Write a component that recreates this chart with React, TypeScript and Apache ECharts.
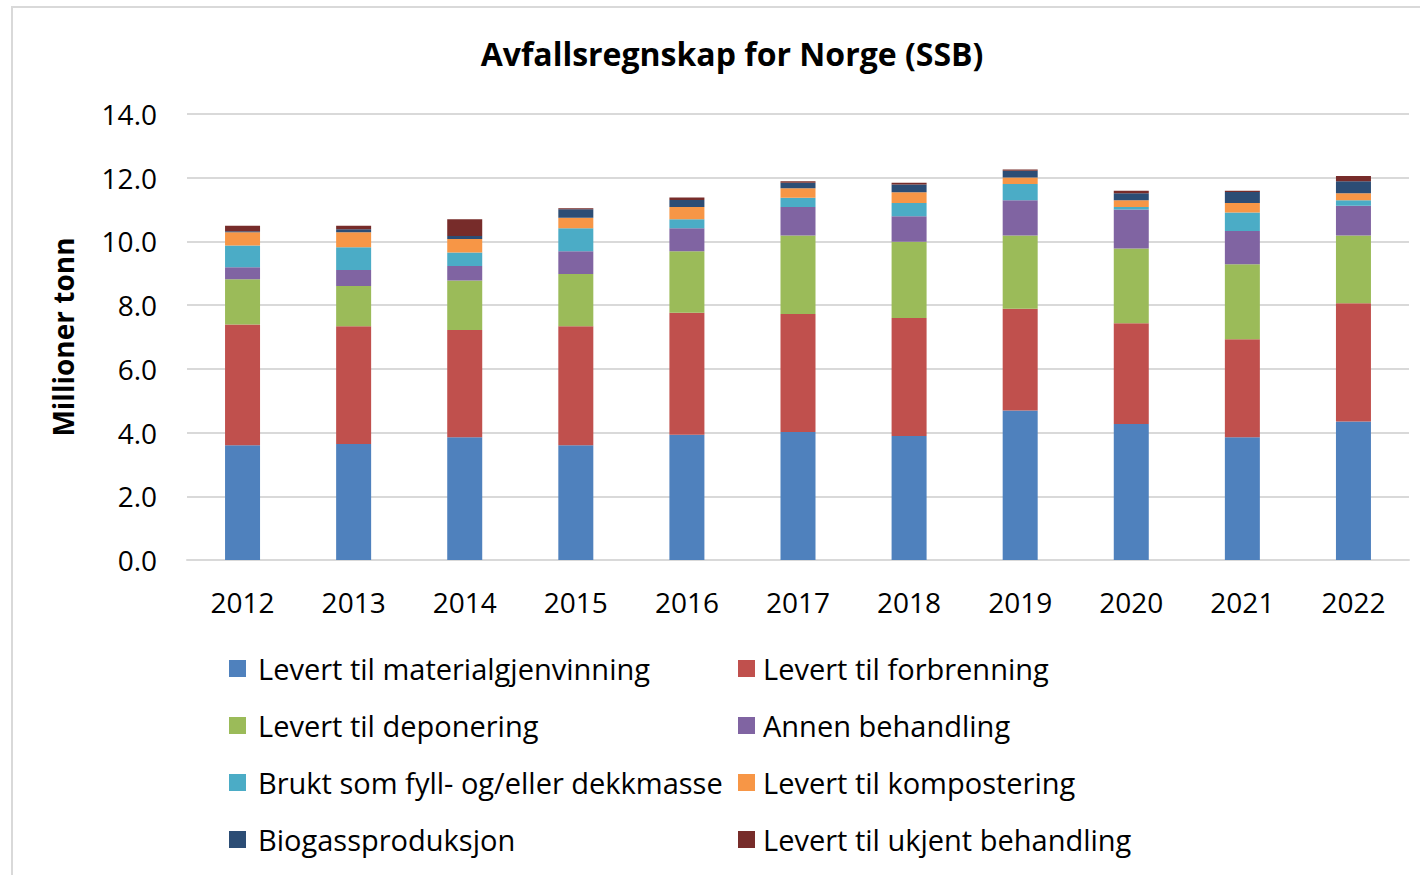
import React, { useEffect, useRef } from "react";
import * as echarts from "echarts";

const years = ["2012", "2013", "2014", "2015", "2016", "2017", "2018", "2019", "2020", "2021", "2022"];

const seriesNames = [
  "Levert til materialgjenvinning",
  "Levert til forbrenning",
  "Levert til deponering",
  "Annen behandling",
  "Brukt som fyll- og/eller dekkmasse",
  "Levert til kompostering",
  "Biogassproduksjon",
  "Levert til ukjent behandling",
];

const materialgjenvinning = [3.60, 3.64, 3.85, 3.60, 3.93, 4.02, 3.89, 4.69, 4.27, 3.85, 4.35];
const forbrenning = [3.79, 3.70, 3.37, 3.74, 3.83, 3.70, 3.71, 3.20, 3.16, 3.08, 3.71];
const deponering = [1.42, 1.26, 1.55, 1.64, 1.93, 2.47, 2.39, 2.30, 2.35, 2.35, 2.13];
const annenBehandling = [0.38, 0.50, 0.46, 0.71, 0.72, 0.89, 0.80, 1.10, 1.22, 1.05, 0.93];
const fyllDekkmasse = [0.68, 0.72, 0.42, 0.72, 0.29, 0.29, 0.42, 0.51, 0.08, 0.58, 0.17];
const kompostering = [0.42, 0.47, 0.43, 0.33, 0.38, 0.30, 0.33, 0.21, 0.21, 0.30, 0.22];
const biogass = [0.03, 0.09, 0.09, 0.27, 0.22, 0.17, 0.25, 0.21, 0.22, 0.34, 0.38];
const ukjent = [0.17, 0.11, 0.53, 0.03, 0.08, 0.05, 0.05, 0.04, 0.08, 0.04, 0.16];

const seriesValues = [
  materialgjenvinning,
  forbrenning,
  deponering,
  annenBehandling,
  fyllDekkmasse,
  kompostering,
  biogass,
  ukjent,
];

const colors = ["#4F81BD", "#C0504D", "#9BBB59", "#8064A2", "#4BACC6", "#F79646", "#2C4D75", "#772C2A"];

const FONT = "Open Sans";

export default function App() {
  const ref = useRef<HTMLDivElement>(null);
  useEffect(() => {
    if (!ref.current) return;
    const chart = echarts.init(ref.current, undefined, { renderer: "svg" });
    const legendText = (padLeft: number) => ({
      fontFamily: FONT,
      fontSize: 29,
      color: "#000",
      lineHeight: 28,
      padding: [0, 0, 0, padLeft],
    });
    chart.setOption({
      animation: false,
      backgroundColor: "#fff",
      color: colors,
      title: {
        text: "Avfallsregnskap for Norge (SSB)",
        left: 727,
        textAlign: "center",
        top: 32,
        textStyle: { fontFamily: FONT, fontSize: 32, fontWeight: "bold", color: "#000" },
      },
      graphic: [
        {
          type: "rect",
          shape: { x: 12, y: 7, width: 1420, height: 880 },
          style: { fill: "none", stroke: "#D9D9D9", lineWidth: 2 },
          silent: true,
        },
      ],
      legend: [
        {
          orient: "vertical",
          left: 229,
          top: 654,
          padding: 0,
          itemGap: 28,
          itemWidth: 17,
          itemHeight: 17,
          icon: "rect",
          textStyle: legendText(7),
          data: [seriesNames[0], seriesNames[2], seriesNames[4], seriesNames[6]],
        },
        {
          orient: "vertical",
          left: 738,
          top: 654,
          padding: 0,
          itemGap: 28,
          itemWidth: 17,
          itemHeight: 17,
          icon: "rect",
          textStyle: legendText(3),
          data: [seriesNames[1], seriesNames[3], seriesNames[5], seriesNames[7]],
        },
      ],
      grid: { left: 187, right: 11, top: 114, bottom: 315, containLabel: false },
      xAxis: {
        type: "category",
        data: years,
        axisTick: { show: false },
        axisLine: { lineStyle: { color: "#D9D9D9", width: 2 } },
        axisLabel: { fontFamily: FONT, fontSize: 28, color: "#000", margin: 28 },
      },
      yAxis: {
        type: "value",
        min: 0,
        max: 14,
        interval: 2,
        name: "Millioner tonn",
        nameLocation: "middle",
        nameGap: 110,
        nameRotate: 90,
        nameTextStyle: { fontFamily: FONT, fontSize: 28, fontWeight: "bold", color: "#000" },
        axisLine: { show: false },
        axisTick: { show: false },
        splitLine: { lineStyle: { color: "#D9D9D9", width: 2 } },
        axisLabel: {
          fontFamily: FONT,
          fontSize: 28,
          color: "#000",
          margin: 30,
          formatter: (v: number) => v.toFixed(1),
        },
      },
      series: seriesNames.map((name, i) => ({
        name,
        type: "bar",
        stack: "total",
        barWidth: 35,
        data: seriesValues[i],
        itemStyle: { color: colors[i] },
      })),
    });
    return () => chart.dispose();
  }, []);
  return (
    <div
      ref={ref}
      style={{ position: "absolute", left: 0, top: 0, width: 1420, height: 875 }}
    />
  );
}
